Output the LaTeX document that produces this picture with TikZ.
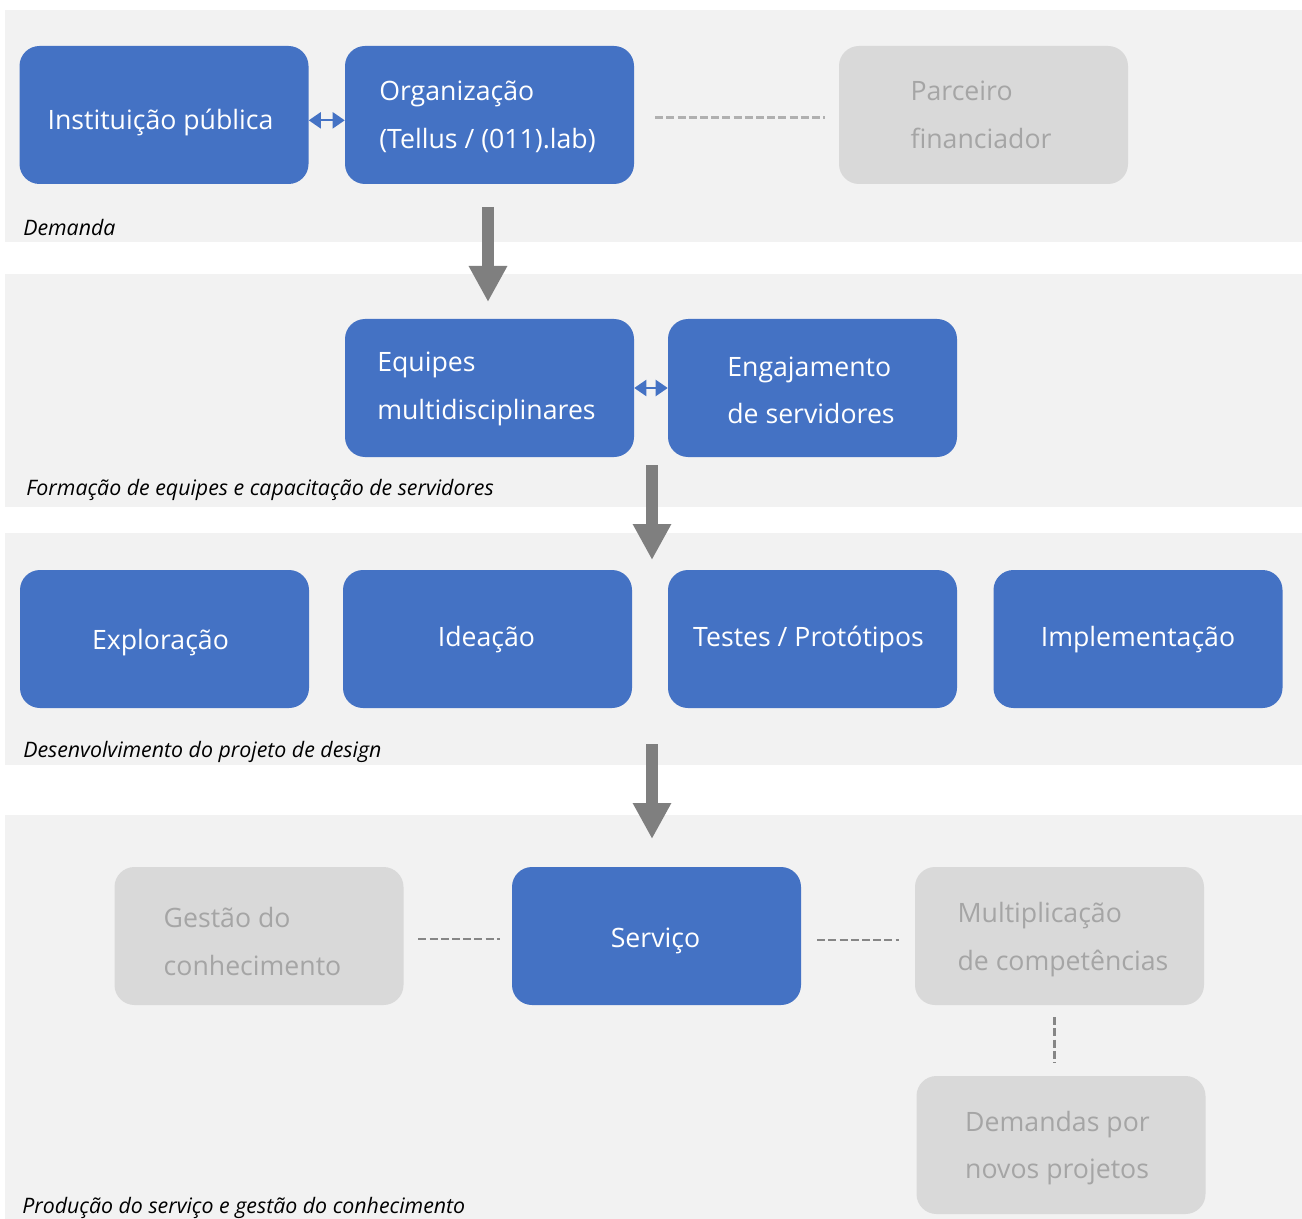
\documentclass[tikz,border=0pt]{standalone}
\usepackage{fontspec}
\setmainfont{Open Sans}
\usetikzlibrary{arrows.meta,calc}
\definecolor{bandfill}{HTML}{F2F2F2}
\definecolor{boxblue}{HTML}{4472C4}
\definecolor{boxgray}{HTML}{D9D9D9}
\definecolor{textgray}{HTML}{A5A5A5}
\definecolor{arrowgray}{HTML}{7F7F7F}
\definecolor{dashlight}{HTML}{B0B0B0}
\definecolor{dashdark}{HTML}{868686}
% box text: #1 = horizontal nudge, #2 = downward nudge (in px units of the grid), #3 = lines
\newcommand\boxtext[3]{%
  \raisebox{\dimexpr -#2pt*3/4\relax}[\height][\depth]{\begin{tabular}{@{}l@{}}#3\end{tabular}}%
  \hspace*{\dimexpr -#1pt*3/2\relax}}
\begin{document}
\begin{tikzpicture}[x=0.75pt,y=-0.75pt,
  band/.style={fill=bandfill,draw=none},
  boxbase/.style={rectangle,rounded corners=15pt,minimum width=216.75pt,minimum height=103.5pt,
    font=\fontsize{20}{35.5}\selectfont,inner sep=0pt},
  bluebox/.style={boxbase,fill=boxblue,text=white},
  graybox/.style={boxbase,fill=boxgray,text=textgray},
  bandlabel/.style={anchor=west,font=\fontsize{16}{19}\selectfont\itshape,inner sep=0pt},
  bigarrow/.style={draw=arrowgray,line width=9pt,-{Triangle[length=27pt,width=27pt]}},
  twoway/.style={draw=boxblue,line width=1.5pt,{Triangle[length=9pt,width=12pt]}-{Triangle[length=9pt,width=12pt]}},
  dashline/.style={line width=2.2pt,dash pattern=on 6pt off 2.4pt},
]
\useasboundingbox (0,0) rectangle (1302,1219);

% background bands
\fill[band] (5,10) rectangle (1302,242);
\fill[band] (5,274) rectangle (1302,507);
\fill[band] (5,533) rectangle (1302,765);
\fill[band] (5,815) rectangle (1302,1219);

% band 1: demand
\node[bluebox] (inst) at (164,115) {\boxtext{-3.5}{5}{Instituição pública}};
\node[bluebox] (org) at (489.5,115) {\boxtext{-2}{0}{Organização\\(Tellus / (011).lab)}};
\node[graybox] (parc) at (983.5,115) {\boxtext{-2.5}{0}{Parceiro\\financiador}};
\node[bandlabel] (lbl1) at (23,228) {Demanda};

% band 2: teams
\node[bluebox] (equ) at (489.5,388) {\boxtext{-3}{-2}{Equipes\\multidisciplinares}};
\node[bluebox] (eng) at (812.5,388) {\boxtext{-1.5}{2.5}{Engajamento\\de servidores}};
\node[bandlabel] (lbl2) at (26,490) {Formação de equipes e capacitação de servidores};

% band 3: design project
\node[bluebox] (expl) at (164.5,639) {\boxtext{-4}{1}{Exploração}};
\node[bluebox] (idea) at (487.5,639) {\boxtext{-1}{-2}{Ideação}};
\node[bluebox] (test) at (812.5,639) {\boxtext{-4}{-2}{Testes / Protótipos}};
\node[bluebox] (impl) at (1138,639) {\boxtext{0}{-2}{Implementação}};
\node[bandlabel] (lbl3) at (23,752) {Desenvolvimento do projeto de design};

% band 4: service
\node[graybox] (gest) at (259,936) {\boxtext{-6.5}{6}{Gestão do\\conhecimento}};
\node[bluebox] (serv) at (656.5,936) {\boxtext{-1}{2}{Serviço}};
\node[graybox] (mult) at (1059.5,936) {\boxtext{3.5}{1}{Multiplicação\\de competências}};
\node[graybox] (dem) at (1061,1145) {\boxtext{-3.5}{0.5}{Demandas por\\novos projetos}};
\node[bandlabel] (lbl4) at (22,1208) {Produção do serviço e gestão do conhecimento};

% flow between bands
\coordinate (a1s) at (488,207);
\coordinate (a1e) at (488,302);
\coordinate (a2s) at (652,465);
\coordinate (a2e) at (652,560);
\coordinate (a3s) at (652,744);
\coordinate (a3e) at (652,839);
\draw[bigarrow] (a1s) -- (a1e);
\draw[bigarrow] (a2s) -- (a2e);
\draw[bigarrow] (a3s) -- (a3e);

% two-way links
\draw[twoway] ([yshift=-4pt]inst.east) -- ([yshift=-4pt]org.west);
\draw[twoway] (equ.east) -- (eng.west);

% dashed relations
\draw[dashline,draw=dashlight,shorten <=15.75pt,shorten >=10pt] ([yshift=-2pt]org.east) -- ([yshift=-2pt]parc.west);
\draw[dashline,draw=dashdark,shorten <=11pt,shorten >=9pt] ([yshift=-2.25pt]gest.east) -- ([yshift=-2.25pt]serv.west);
\draw[dashline,draw=dashdark,shorten <=12pt,shorten >=12pt] ([yshift=-3pt]serv.east) -- ([yshift=-3pt]mult.west);
\draw[dashline,draw=dashdark,shorten <=9pt,shorten >=9.75pt] ([xshift=-4pt]mult.south) -- ([xshift=-4pt]mult.south |- dem.north);
\end{tikzpicture}
\end{document}
